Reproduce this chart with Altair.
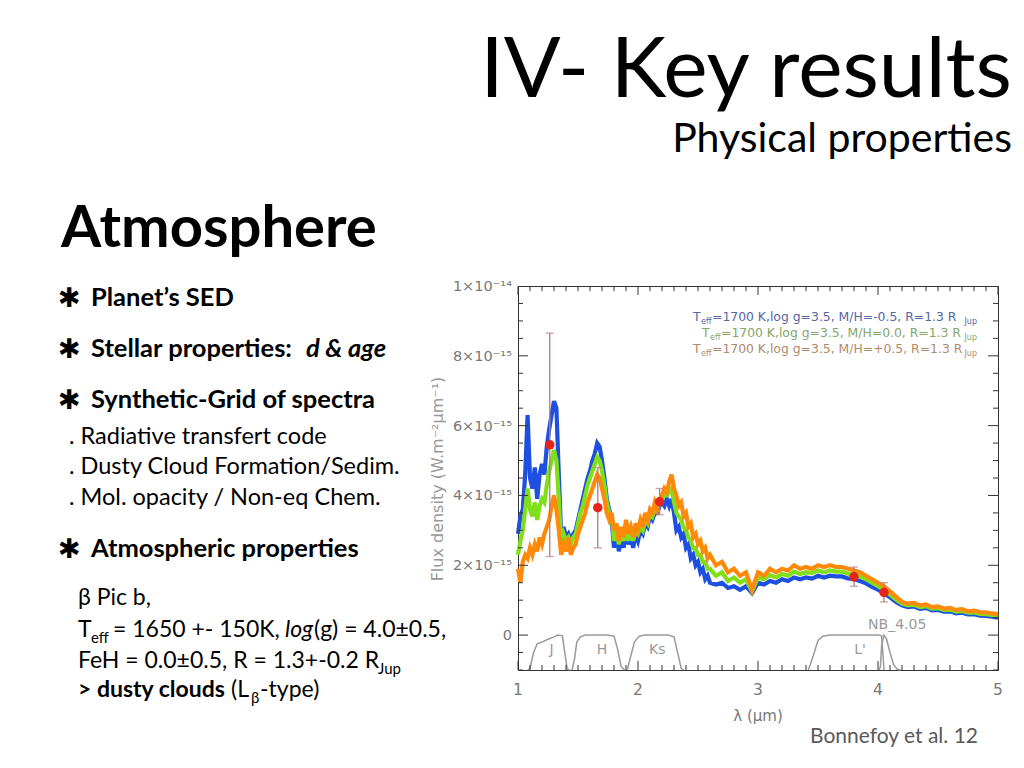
import altair as alt
import pandas as pd

# ---------------- data (flux in units of 1e-15 W m^-2 um^-1) ----------------
lam = [1.00, 1.02, 1.04, 1.06, 1.08, 1.10, 1.12, 1.14, 1.16, 1.18,
       1.20, 1.22, 1.24, 1.26, 1.28, 1.30, 1.32, 1.34, 1.36, 1.38,
       1.40, 1.42, 1.44, 1.46, 1.48, 1.50, 1.52, 1.54, 1.56, 1.58,
       1.60, 1.62, 1.64, 1.66, 1.68, 1.70, 1.72, 1.74, 1.76, 1.78,
       1.80, 1.82, 1.84, 1.86, 1.88, 1.90, 1.92, 1.94, 1.96, 1.98,
       2.00, 2.02, 2.04, 2.06, 2.08, 2.10, 2.12, 2.14, 2.16, 2.18,
       2.20, 2.22, 2.24, 2.26, 2.28, 2.30, 2.32, 2.34, 2.36, 2.38,
       2.40, 2.42, 2.44, 2.46, 2.48, 2.50, 2.52, 2.54, 2.56, 2.58,
       2.60,
       2.65, 2.70, 2.75, 2.80, 2.85, 2.90, 2.95, 3.00, 3.05, 3.10,
       3.15, 3.20, 3.25, 3.30, 3.35, 3.40, 3.45, 3.50, 3.55, 3.60,
       3.65, 3.70, 3.75, 3.80, 3.85, 3.90, 3.95, 4.00, 4.05, 4.10,
       4.15, 4.20, 4.25, 4.30, 4.35, 4.40, 4.45, 4.50, 4.55, 4.60,
       4.65, 4.70, 4.75, 4.80, 4.85, 4.90, 4.95, 5.00]

flux_blue = [2.9, 3.4, 3.6, 4.6, 6.3, 4.5, 4.2, 4.8, 3.9, 4.6,
             4.9, 4.6, 5.4, 5.9, 6.3, 6.7, 6.5, 4.6, 2.8, 3.1,
             2.8, 2.9, 2.7, 2.9, 3.0, 3.3, 3.6, 3.9, 4.2, 4.5,
             4.7, 5.0, 5.2, 5.5, 5.4, 5.0, 4.5, 3.9, 3.6, 3.3,
             2.5, 3.0, 2.4, 2.8, 2.5, 3.0, 2.6, 2.8, 2.5, 2.9,
             2.7, 3.0, 2.9, 3.2, 3.1, 3.4, 3.3, 3.5, 3.5, 3.7,
             3.8, 3.7, 3.9, 3.7, 3.9, 3.5, 3.0, 3.1, 2.8, 2.9,
             2.5, 2.6, 2.2, 2.3, 2.0, 2.1, 1.8, 1.9, 1.6, 1.7,
             1.5,
             1.45, 1.5, 1.35, 1.4, 1.3, 1.4, 1.2, 1.5, 1.45, 1.55,
             1.5, 1.6, 1.55, 1.65, 1.6, 1.65, 1.62, 1.7, 1.65, 1.7,
             1.68, 1.68, 1.62, 1.6, 1.55, 1.48, 1.38, 1.3, 1.2, 1.08,
             0.95, 0.85, 0.8, 0.82, 0.75, 0.78, 0.71, 0.72, 0.67, 0.68,
             0.62, 0.64, 0.59, 0.6, 0.56, 0.55, 0.53, 0.5]

flux_green = [2.3, 2.7, 3.0, 3.6, 4.2, 3.6, 3.4, 3.8, 3.3, 3.7,
              3.9, 3.8, 4.3, 4.7, 5.0, 5.3, 5.0, 3.9, 2.6, 2.9,
              2.7, 2.8, 2.6, 2.8, 2.9, 3.2, 3.5, 3.7, 4.0, 4.3,
              4.5, 4.7, 4.9, 5.1, 5.0, 4.7, 4.3, 3.8, 3.5, 3.4,
              2.7, 3.1, 2.6, 2.9, 2.7, 3.1, 2.7, 3.0, 2.7, 3.0,
              2.9, 3.1, 3.0, 3.3, 3.2, 3.5, 3.4, 3.6, 3.6, 3.8,
              3.9, 4.0, 4.0, 4.1, 4.2, 3.8, 3.5, 3.4, 3.3, 3.1,
              3.0, 2.8, 2.7, 2.5, 2.5, 2.3, 2.3, 2.1, 2.1, 1.9,
              1.9,
              1.7, 1.8, 1.55, 1.65, 1.5, 1.6, 1.25, 1.65, 1.6, 1.72,
              1.65, 1.75, 1.7, 1.82, 1.75, 1.8, 1.78, 1.85, 1.8, 1.85,
              1.82, 1.82, 1.76, 1.72, 1.68, 1.6, 1.5, 1.4, 1.3, 1.16,
              1.02, 0.9, 0.85, 0.87, 0.8, 0.83, 0.76, 0.77, 0.72, 0.73,
              0.67, 0.69, 0.64, 0.65, 0.61, 0.6, 0.58, 0.55]

flux_orange = [1.9, 1.5, 2.1, 2.3, 2.2, 2.5, 2.3, 2.6, 2.4, 2.8,
               2.6, 2.9, 3.1, 3.3, 3.7, 4.0, 3.6, 3.0, 2.3, 2.6,
               2.4, 2.8, 2.3, 2.5, 2.6, 2.9, 3.1, 3.3, 3.5, 3.8,
               4.0, 4.2, 4.4, 4.6, 4.5, 4.2, 3.9, 3.5, 3.3, 3.5,
               3.0, 3.2, 2.7, 3.1, 2.8, 3.3, 2.9, 3.1, 2.8, 3.2,
               3.0, 3.3, 3.1, 3.5, 3.3, 3.6, 3.5, 3.8, 3.6, 3.9,
               4.0, 4.2, 4.1, 4.4, 4.6, 4.2, 4.0, 3.7, 3.8, 3.4,
               3.5, 3.1, 3.2, 2.8, 2.9, 2.6, 2.7, 2.4, 2.5, 2.2,
               2.3,
               2.0, 2.1, 1.8, 1.9, 1.7, 1.8, 1.3, 1.8, 1.7, 1.9,
               1.8, 1.9, 1.85, 2.0, 1.9, 1.95, 1.9, 2.0, 1.95, 2.0,
               1.95, 1.95, 1.9, 1.85, 1.8, 1.7, 1.6, 1.5, 1.4, 1.25,
               1.1, 0.95, 0.9, 0.92, 0.85, 0.88, 0.8, 0.82, 0.76, 0.78,
               0.72, 0.74, 0.68, 0.7, 0.66, 0.65, 0.62, 0.6]

phot_lam = [1.265, 1.665, 2.18, 3.80, 4.05]
phot_flux = [5.45, 3.65, 3.82, 1.67, 1.22]
phot_lo = [2.25, 2.50, 3.45, 1.40, 0.95]
phot_hi = [8.65, 4.80, 4.20, 1.95, 1.50]

filt_J_lam = [1.08, 1.10, 1.13, 1.16, 1.20, 1.25, 1.30, 1.33, 1.37, 1.39, 1.41, 1.43]
filt_J_tr = [-1.0, -0.95, -0.5, -0.25, -0.2, -0.12, -0.05, 0.0, -0.02, -0.5, -0.97, -1.0]
filt_H_lam = [1.45, 1.47, 1.49, 1.52, 1.56, 1.75, 1.80, 1.83, 1.86, 1.89]
filt_H_tr = [-1.0, -0.7, -0.2, -0.05, 0.0, 0.0, -0.03, -0.4, -0.9, -1.0]
filt_K_lam = [1.91, 1.94, 1.97, 2.01, 2.06, 2.25, 2.30, 2.33, 2.36, 2.38]
filt_K_tr = [-1.0, -0.6, -0.2, -0.03, 0.0, 0.0, -0.05, -0.5, -0.95, -1.0]
filt_L_lam = [3.42, 3.46, 3.50, 3.54, 3.60, 4.00, 4.03, 4.04, 4.05]
filt_L_tr = [-1.0, -0.6, -0.15, -0.03, 0.0, 0.0, -0.02, -0.5, -1.0]
filt_NB_lam = [4.01, 4.02, 4.03, 4.05, 4.07, 4.10, 4.13, 4.16, 4.19]
filt_NB_tr = [-1.0, -0.9, -0.3, 0.0, -0.1, -0.5, -0.85, -0.98, -1.0]

filt_names = ["J", "H", "Ks", "L'", "NB_4.05"]
filt_label_lam = [1.28, 1.70, 2.16, 3.85, 4.16]
filt_label_y = [-0.42, -0.42, -0.42, -0.42, 0.3]

x_tick_vals = [1, 2, 3, 4, 5]
x_tick_labels = ["1", "2", "3", "4", "5"]
y_tick_vals = [0, 2, 4, 6, 8, 10]
y_tick_labels = ["0", "2×10⁻¹⁵", "4×10⁻¹⁵", "6×10⁻¹⁵", "8×10⁻¹⁵", "1×10⁻¹⁴"]

# ---------------- layout ----------------
W, H = 480, 384
OX, OY = 518, 286  # page position of plot origin
xs = alt.Scale(domain=[1, 5], nice=False, zero=False)
ys = alt.Scale(domain=[-1, 10], nice=False, zero=False)
AXF = "DejaVu Sans"
SLF = "Lato"

spec = pd.DataFrame({"lam": lam, "blue": flux_blue, "green": flux_green, "orange": flux_orange})
phot = pd.DataFrame({"lam": phot_lam, "f": phot_flux, "lo": phot_lo, "hi": phot_hi})


def X(f):
    return alt.X(f, scale=xs, axis=None)


def Y(f):
    return alt.Y(f, scale=ys, axis=None)


layers = []

# spectra
for col, color in [("blue", "#1d4fe0"), ("green", "#7fe01a"), ("orange", "#ff8a0a")]:
    layers.append(alt.Chart(spec).mark_line(color=color, strokeWidth=4.2, strokeJoin="miter").encode(
        x=X("lam:Q"), y=Y(f"{col}:Q")))

# filter curves
for fl, ft in [(filt_J_lam, filt_J_tr), (filt_H_lam, filt_H_tr), (filt_K_lam, filt_K_tr),
               (filt_L_lam, filt_L_tr), (filt_NB_lam, filt_NB_tr)]:
    d = pd.DataFrame({"lam": fl, "tr": ft})
    layers.append(alt.Chart(d).mark_line(color="#9a9a9a", strokeWidth=1.5).encode(
        x=X("lam:Q"), y=Y("tr:Q")))

flab = pd.DataFrame({"name": filt_names, "lam": filt_label_lam, "y": filt_label_y})
layers.append(alt.Chart(flab).mark_text(font=AXF, fontSize=14, color="#999").encode(
    x=X("lam:Q"), y=Y("y:Q"), text="name:N"))

# photometry
layers.append(alt.Chart(phot).mark_rule(color="#b57b7b", strokeWidth=1.3).encode(
    x=X("lam:Q"), y=Y("lo:Q"), y2="hi:Q"))
for c in ["lo", "hi"]:
    layers.append(alt.Chart(phot).mark_tick(color="#b57b7b", orient="horizontal", size=8, thickness=1.3).encode(
        x=X("lam:Q"), y=Y(f"{c}:Q")))
layers.append(alt.Chart(phot).mark_point(filled=True, color="#e8231c", size=90, opacity=1).encode(
    x=X("lam:Q"), y=Y("f:Q")))

# inward ticks on all four sides
x_minor = [round(1 + 0.1 * i, 1) for i in range(41) if i % 10]
y_minor = [-1 + 0.5 * i for i in range(23) if (-1 + 0.5 * i) % 2 != 0]
y_maj_in = [0, 2, 4, 6, 8]
TC = "#333"
for vals, ln in [(x_minor, 5), (x_tick_vals, 9)]:
    d = pd.DataFrame({"v": vals})
    layers.append(alt.Chart(d).mark_rule(color=TC, strokeWidth=1).encode(
        x=X("v:Q"), y=alt.value(H), y2=alt.value(H - ln)))
    layers.append(alt.Chart(d).mark_rule(color=TC, strokeWidth=1).encode(
        x=X("v:Q"), y=alt.value(0), y2=alt.value(ln)))
for vals, ln in [(y_minor, 5), (y_maj_in, 10)]:
    d = pd.DataFrame({"v": vals})
    layers.append(alt.Chart(d).mark_rule(color=TC, strokeWidth=1).encode(
        y=Y("v:Q"), x=alt.value(0), x2=alt.value(ln)))
    layers.append(alt.Chart(d).mark_rule(color=TC, strokeWidth=1).encode(
        y=Y("v:Q"), x=alt.value(W), x2=alt.value(W - ln)))

# tick labels (placed through the scales)
xl = pd.DataFrame({"v": x_tick_vals, "t": x_tick_labels})
layers.append(alt.Chart(xl).mark_text(font=AXF, fontSize=15.5, color="#777", baseline="middle").encode(
    x=X("v:Q"), y=alt.value(H + 20), text="t:N"))
yl = pd.DataFrame({"v": y_tick_vals, "t": y_tick_labels})
layers.append(alt.Chart(yl).mark_text(font=AXF, fontSize=14.5, color="#777", baseline="middle",
                                      align="right", dy=1).encode(
    y=Y("v:Q"), x=alt.value(-6), text="t:N"))


def txt(s, px, py, size, color="#000", weight="normal", style="normal", align="left",
        baseline="alphabetic", font=SLF, angle=0):
    return alt.Chart(pd.DataFrame({"t": [s]})).mark_text(
        align=align, baseline=baseline, fontSize=size, fontWeight=weight, fontStyle=style,
        color=color, font=font, angle=angle).encode(text="t:N", x=alt.value(px - OX), y=alt.value(py - OY))


# axis titles
layers.append(txt("λ (μm)", 758, 716, 15, "#777", align="center", baseline="middle", font=AXF))
layers.append(txt("Flux density (W.m⁻²μm⁻¹)", 438, 479, 16, "#999", align="center", baseline="middle",
                  font=AXF, angle=270))

# in-plot legend
leg = [("=1700 K,log g=3.5, M/H=-0.5, R=1.3 R", 693, 321, "#5666a6"),
       ("=1700 K,log g=3.5, M/H=0.0, R=1.3 R", 702, 337, "#86a66a"),
       ("=1700 K,log g=3.5, M/H=+0.5, R=1.3 R", 693, 353, "#b08a6c")]
for s, x0, yb, col in leg:
    layers.append(txt("T", x0, yb, 12.4, col, font=AXF))
    layers.append(txt("eff", x0 + 8, yb + 3, 8, col, font=AXF))
    layers.append(txt(s, x0 + 19, yb, 12.4, col, font=AXF))
    layers.append(txt("Jup", 977, yb + 3, 8, col, align="right", font=AXF))

# slide text
layers.append(txt("IV- Key results", 1012, 97, 84, align="right"))
layers.append(txt("Physical properties", 1012, 152, 41, align="right"))
layers.append(txt("Atmosphere", 61, 247, 58, weight="bold"))

for yb in [307, 358, 409, 558]:
    layers.append(txt("✱", 58, yb, 27, weight="bold", font="DejaVu Sans"))
layers.append(txt("Planet’s SED", 91, 306, 25.5, weight="bold"))
layers.append(txt("Stellar properties:", 91, 357, 25.5, weight="bold"))
layers.append(txt("d & age", 306, 357, 25.5, weight="bold", style="italic"))
layers.append(txt("Synthetic-Grid of spectra", 91, 408, 25.5, weight="bold"))
layers.append(txt(". Radiative transfert code", 69, 444, 23.5))
layers.append(txt(". Dusty Cloud Formation/Sedim.", 69, 474, 23.5))
layers.append(txt(". Mol. opacity / Non-eq Chem.", 69, 505, 23.5))
layers.append(txt("Atmospheric properties", 91, 557, 25.5, weight="bold"))

layers.append(txt("β Pic b,", 78, 605, 23))
layers.append(txt("T", 78, 637, 23))
layers.append(txt("eff", 91, 643, 15))
layers.append(txt("= 1650 +- 150K,", 113, 637, 23))
layers.append(txt("log", 285, 637, 23, style="italic"))
layers.append(txt("(g) = 4.0±0.5,", 314, 637, 23))
layers.append(txt("FeH = 0.0±0.5, R = 1.3+-0.2 R", 78, 668, 23))
layers.append(txt("Jup", 378, 674, 15))
layers.append(txt("> dusty clouds", 78, 697, 23, weight="bold"))
layers.append(txt("(L", 231, 697, 23))
layers.append(txt("β", 251, 703, 15))
layers.append(txt("-type)", 260, 697, 23))

layers.append(txt("Bonnefoy et al. 12", 978, 743, 21, color="#595959", align="right"))

chart = alt.layer(*layers).properties(
    width=W, height=H,
    autosize=alt.AutoSizeParams(type="none"),
    padding={"left": OX - 8, "top": OY - 8, "right": 1008 - (OX - 8) - W, "bottom": 752 - (OY - 8) - H},
    background="white",
).configure_view(stroke="#333", strokeWidth=1)

chart.save("out.html", embed_options={"renderer": "svg", "actions": False})
